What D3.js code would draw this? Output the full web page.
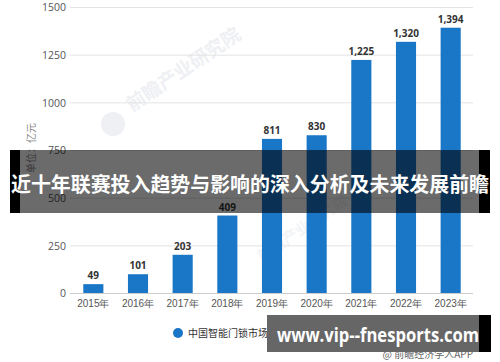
<!DOCTYPE html>
<html>
<head>
<meta charset="utf-8">
<script src="https://cdn.jsdelivr.net/npm/d3@7"></script>
<style>
  body { margin: 0; background: #fff; }
  svg { display: block; font-family: "Noto Sans CJK SC", "Open Sans", sans-serif; }
</style>
</head>
<body>
<div id="chart"></div>
<script>
const years = ["2015年", "2016年", "2017年", "2018年", "2019年", "2020年", "2021年", "2022年", "2023年"];
const marketSize = [49, 101, 203, 409, 811, 830, 1225, 1320, 1394];
const yTicks = [0, 250, 500, 750, 1000, 1250, 1500];

const width = 500, height = 362;

const svg = d3.select("#chart")
  .append("svg")
  .attr("width", width)
  .attr("height", height);

const x = d3.scaleBand()
  .domain(years)
  .range([71, 473])
  .paddingInner(0.55)
  .paddingOuter(0.275);

const y = d3.scaleLinear()
  .domain([0, 1500])
  .range([293.5, 7.5]);

// watermark
const wm = svg.append("g").attr("fill", "#eef0f3");
wm.append("circle").attr("cx", 113).attr("cy", 124).attr("r", 12);
wm.append("text")
  .attr("transform", "translate(132,112) rotate(-34)")
  .style("font-size", "19px")
  .style("font-weight", "bold")
  .text("前瞻产业研究院");
wm.append("text")
  .attr("transform", "translate(262,262) rotate(-34)")
  .style("font-size", "15px")
  .style("font-weight", "bold")
  .attr("opacity", 0.7)
  .text("前瞻产业研究院");

// grid lines
svg.append("g")
  .selectAll("line")
  .data(yTicks.slice(1))
  .join("line")
  .attr("x1", 70).attr("x2", 473)
  .attr("y1", d => y(d)).attr("y2", d => y(d))
  .attr("stroke", "#e3e3e3")
  .attr("stroke-width", 1);

// y axis
const yAxis = svg.append("g")
  .attr("transform", "translate(70,0)")
  .call(d3.axisLeft(y).tickValues(yTicks).tickSize(0).tickPadding(4).tickFormat(d3.format("d")));
yAxis.select(".domain").remove();
yAxis.selectAll("text")
  .style("font-size", "10.5px")
  .style("font-family", "'Open Sans', sans-serif")
  .attr("fill", "#555");

// axis title
svg.append("text")
  .attr("transform", "translate(35,148) rotate(-90)")
  .attr("text-anchor", "middle")
  .style("font-size", "10px")
  .attr("fill", "#888")
  .text("单位：亿元");

// bars
svg.append("g")
  .selectAll("rect")
  .data(marketSize)
  .join("rect")
  .attr("x", (d, i) => x(years[i]))
  .attr("y", d => y(d))
  .attr("width", x.bandwidth())
  .attr("height", d => y(0) - y(d))
  .attr("fill", "#1a76c6");

// value labels
svg.append("g")
  .selectAll("text")
  .data(marketSize)
  .join("text")
  .attr("x", (d, i) => x(years[i]) + x.bandwidth() / 2)
  .attr("y", d => y(d) - 5)
  .attr("text-anchor", "middle")
  .style("font-size", "10px")
  .style("font-weight", "bold")
  .style("font-family", "'Open Sans', sans-serif")
  .attr("fill", "#333")
  .text(d => d3.format(",")(d));

// x axis
const xAxis = svg.append("g")
  .attr("transform", `translate(0,${y(0)})`)
  .call(d3.axisBottom(x).tickSize(0).tickPadding(6));
xAxis.select(".domain")
  .attr("d", "M70,0H473")
  .attr("stroke", "#ccc");
xAxis.selectAll("text")
  .style("font-size", "10px")
  .attr("fill", "#555");

// legend
svg.append("circle")
  .attr("cx", 178).attr("cy", 333).attr("r", 5)
  .attr("fill", "#1a76c6");
svg.append("text")
  .attr("x", 188).attr("y", 337)
  .style("font-size", "10px")
  .attr("fill", "#333")
  .text("中国智能门锁市场规模（亿元）");

svg.append("text")
  .attr("x", 473).attr("y", 358)
  .attr("text-anchor", "end")
  .style("font-size", "10px")
  .attr("fill", "#666")
  .text("@ 前瞻经济学人APP");

// title banner overlay
svg.append("rect").attr("x", 10).attr("y", 150).attr("width", 10).attr("height", 63).attr("fill", "#000");
svg.append("rect").attr("x", 479).attr("y", 150).attr("width", 11).attr("height", 63).attr("fill", "#000");
svg.append("rect").attr("x", 20).attr("y", 150).attr("width", 459).attr("height", 63)
  .attr("fill", "#000").attr("opacity", 0.58);
svg.append("text")
  .attr("x", 250).attr("y", 192)
  .attr("text-anchor", "middle")
  .attr("textLength", 478)
  .attr("lengthAdjust", "spacingAndGlyphs")
  .style("font-size", "20px")
  .style("font-weight", "bold")
  .attr("fill", "#fff")
  .text("近十年联赛投入趋势与影响的深入分析及未来发展前瞻");

// url banner
svg.append("rect").attr("x", 267).attr("y", 315).attr("width", 212).attr("height", 37).attr("fill", "#666");
svg.append("rect").attr("x", 479).attr("y", 315).attr("width", 12).attr("height", 37).attr("fill", "#000");
svg.append("text")
  .attr("x", 277).attr("y", 342)
  .attr("textLength", 202)
  .attr("lengthAdjust", "spacingAndGlyphs")
  .style("font-size", "20px")
  .style("font-weight", "bold")
  .style("font-family", "'Open Sans', sans-serif")
  .attr("fill", "#fff")
  .text("www.vip--fnesports.com");
</script>
</body>
</html>
